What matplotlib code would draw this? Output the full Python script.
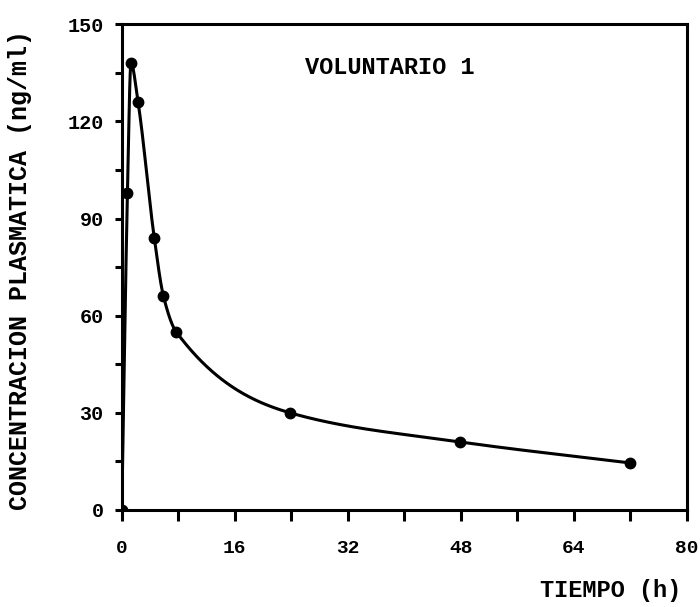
import numpy as np
import matplotlib.pyplot as plt
from matplotlib.ticker import MultipleLocator

plt.rcParams["font.family"] = ["Liberation Mono", "DejaVu Sans Mono"]
plt.rcParams["font.weight"] = "bold"

# sampling times (h) and plasma concentration (ng/ml)
tiempo = [0, 0.8, 1.3, 2.3, 4.6, 5.9, 7.7, 23.8, 47.9, 72.0]
concentracion = [0, 98, 138, 126, 84, 66, 55, 30, 21, 14.5]


def pchip(x, y, xs):
    # monotone cubic curve through the measured points, for the drawn line only
    x = np.asarray(x, float)
    y = np.asarray(y, float)
    h = np.diff(x)
    d = np.diff(y) / h
    m = np.zeros_like(y)
    for k in range(1, len(x) - 1):
        if d[k - 1] * d[k] > 0:
            w1 = 2 * h[k] + h[k - 1]
            w2 = h[k] + 2 * h[k - 1]
            m[k] = (w1 + w2) / (w1 / d[k - 1] + w2 / d[k])
    m[0] = d[0]
    m[-1] = d[-1]
    idx = np.clip(np.searchsorted(x, xs) - 1, 0, len(x) - 2)
    t = (xs - x[idx]) / h[idx]
    h00 = 2 * t**3 - 3 * t**2 + 1
    h10 = t**3 - 2 * t**2 + t
    h01 = -2 * t**3 + 3 * t**2
    h11 = t**3 - t**2
    return h00 * y[idx] + h10 * h[idx] * m[idx] + h01 * y[idx + 1] + h11 * h[idx] * m[idx + 1]


fig = plt.figure(figsize=(7, 6.07), dpi=100)
ax = fig.add_axes([0.174, 0.160, 0.807, 0.800])

xs = np.linspace(tiempo[0], tiempo[-1], 2000)
ax.plot(xs, pchip(tiempo, concentracion, xs), color="black", lw=2.2, zorder=3)
ax.plot(tiempo, concentracion, "o", color="black", ms=7.5, zorder=4)

ax.set_xlim(0, 80)
ax.set_ylim(0, 150)
ax.xaxis.set_major_locator(MultipleLocator(16))
ax.xaxis.set_minor_locator(MultipleLocator(8))
ax.yaxis.set_major_locator(MultipleLocator(30))
ax.yaxis.set_minor_locator(MultipleLocator(15))
for s in ax.spines.values():
    s.set_linewidth(2.2)
ax.tick_params(axis="x", which="both", direction="out", length=8, width=2.2,
               labelsize=14, pad=14)
ax.tick_params(axis="y", which="both", direction="out", length=5, width=2.2,
               labelsize=14.5, pad=8)

ax.text(26.0, 136.5, "VOLUNTARIO 1", fontsize=17, fontweight="bold", va="center")

fig.text(0.973, 0.028, "TIEMPO (h)", fontsize=17, fontweight="bold",
         ha="right", va="center")
fig.text(0.029, 0.555, "CONCENTRACION PLASMATICA (ng/ml)", fontsize=18,
         fontweight="bold", rotation=90, ha="center", va="center")

fig.savefig("out.png", dpi=100)
